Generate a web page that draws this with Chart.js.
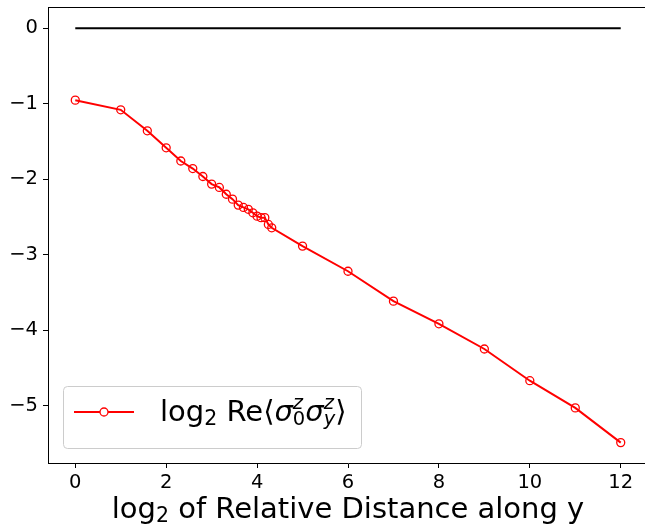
<!DOCTYPE html>
<html>
<head>
<meta charset="utf-8">
<script src="https://cdn.jsdelivr.net/npm/chart.js@4.4.1/dist/chart.umd.min.js"></script>
<style>
  html, body { margin: 0; padding: 0; overflow: hidden; background: #fff; }
  #wrap { width: 660px; height: 528px; }
</style>
</head>
<body>
<div id="wrap"><canvas id="mycanvas"></canvas></div>
<script>
// log2 of relative distance (x) and log2 Re<s0 sy> (y)
var xVals = [0, 1, 1.585, 2, 2.322, 2.585, 2.807, 3, 3.17, 3.322, 3.459, 3.585, 3.7, 3.807,
             3.907, 4, 4.087, 4.17, 4.248, 4.322, 5, 6, 7, 8, 9, 10, 11, 12];
var yVals = [-0.954, -1.082, -1.36, -1.585, -1.76, -1.86, -1.965, -2.066, -2.11, -2.2, -2.265,
             -2.344, -2.375, -2.4, -2.446, -2.49, -2.51, -2.51, -2.6, -2.645, -2.887, -3.22,
             -3.616, -3.916, -4.25, -4.67, -5.03, -5.49];
var refX = [0, 12];      // black reference line at zero
var refY = [0, 0];
var xTicks = [0, 2, 4, 6, 8, 10, 12];
var yTicks = [0, -1, -2, -3, -4, -5];

var FONT = '"DejaVu Sans", sans-serif';
var BIG = 29, SMALL = 19.5;

function pts(xs, ys) {
  var out = [];
  for (var i in xs) out.push({x: xs[i], y: ys[i]});
  return out;
}

// draws pieces of text one after another, [text, size, dy, italic, noAdvance]
function drawPieces(ctx, x, y, pieces) {
  for (var i = 0; i < pieces.length; i++) {
    var p = pieces[i];
    ctx.font = (p[3] ? 'italic ' : '') + p[1] + 'px ' + FONT;
    ctx.fillText(p[0], x, y + p[2]);
    if (!p[4]) x += ctx.measureText(p[0]).width;
  }
  return x;
}
function piecesWidth(ctx, pieces) {
  var w = 0;
  for (var i = 0; i < pieces.length; i++) {
    var p = pieces[i];
    ctx.font = (p[3] ? 'italic ' : '') + p[1] + 'px ' + FONT;
    if (!p[4]) w += ctx.measureText(p[0]).width;
  }
  return w;
}

var extras = {
  id: 'extras',
  afterDraw: function(chart) {
    var ctx = chart.ctx, a = chart.chartArea;
    ctx.save();
    // top and right spines
    ctx.strokeStyle = '#000';
    ctx.lineWidth = 1;
    ctx.beginPath();
    ctx.moveTo(a.left, a.top + 0.5);
    ctx.lineTo(a.right, a.top + 0.5);
    ctx.lineTo(a.right, a.bottom);
    ctx.stroke();

    // x axis title
    ctx.fillStyle = '#000';
    ctx.textBaseline = 'alphabetic';
    var title = [['log', BIG, 0], ['2', SMALL + 1, 4], [' of Relative Distance along y', BIG, 0]];
    var tw = piecesWidth(ctx, title);
    drawPieces(ctx, (a.left + a.right) / 2 - tw / 2, 518, title);

    // legend box
    ctx.fillStyle = 'rgba(255,255,255,0.8)';
    ctx.strokeStyle = '#cccccc';
    ctx.beginPath();
    ctx.roundRect(63.5, 386.5, 298, 62, 4);
    ctx.fill();
    ctx.stroke();
    ctx.strokeStyle = 'red';
    ctx.lineWidth = 2;
    ctx.beginPath();
    ctx.moveTo(74, 412);
    ctx.lineTo(134, 412);
    ctx.stroke();
    ctx.lineWidth = 1.3;
    ctx.beginPath();
    ctx.arc(104, 412, 4, 0, Math.PI * 2);
    ctx.fillStyle = '#fff';
    ctx.fill();
    ctx.stroke();
    ctx.fillStyle = '#000';
    drawPieces(ctx, 160, 421, [
      ['log', BIG, 0], ['2', SMALL + 1, 4], [' Re\u27E8', BIG, 0],
      ['\u03C3', BIG, 0, true],
      ['z', SMALL, -12, true, true], ['0', SMALL, 4],
      ['\u03C3', BIG, 0, true],
      ['z', SMALL, -12, true, true], ['y', SMALL, 4, true],
      ['\u27E9', BIG, 0]
    ]);
    ctx.restore();
  }
};

var ctx = document.getElementById('mycanvas');
var chart = new Chart(ctx, {
  type: 'line',
  data: {
    datasets: [
      {
        label: 'zero',
        data: pts(refX, refY),
        borderColor: '#000',
        borderWidth: 2,
        pointRadius: 0
      },
      {
        label: 'log2 Re<s0 sy>',
        data: pts(xVals, yVals),
        borderColor: 'red',
        borderWidth: 2,
        pointRadius: 4,
        pointBorderWidth: 1.3,
        pointBorderColor: 'red',
        pointBackgroundColor: 'rgba(0,0,0,0)',
        tension: 0
      }
    ]
  },
  options: {
    responsive: true,
    maintainAspectRatio: false,
    animation: false,
    layout: { padding: { left: 0, top: 7, right: 12, bottom: 0 } },
    plugins: { legend: { display: false }, tooltip: { enabled: false } },
    scales: {
      x: {
        type: 'linear',
        min: -0.6,
        max: 12.6,
        afterBuildTicks: function(s) { s.ticks = xTicks.map(function(v) { return {value: v}; }); },
        afterFit: function(s) { s.height = 65; s.paddingLeft = 0; s.paddingRight = 0; },
        grid: { drawOnChartArea: false, drawTicks: true, tickLength: 5, color: '#000' },
        border: { color: '#000', width: 1 },
        ticks: { color: '#000', padding: 3, maxRotation: 0, font: { family: FONT, size: SMALL } }
      },
      y: {
        type: 'linear',
        min: -5.76,
        max: 0.28,
        afterBuildTicks: function(s) { s.ticks = yTicks.map(function(v) { return {value: v}; }); },
        afterFit: function(s) { s.width = 48; s.paddingTop = 0; s.paddingBottom = 0; },
        grid: { drawOnChartArea: false, drawTicks: true, tickLength: 5, color: '#000' },
        border: { color: '#000', width: 1 },
        ticks: {
          color: '#000', padding: 5, font: { family: FONT, size: SMALL },
          callback: function(v) { return String(v).replace('-', '\u2212'); }
        }
      }
    }
  },
  plugins: [extras]
});
</script>
</body>
</html>
